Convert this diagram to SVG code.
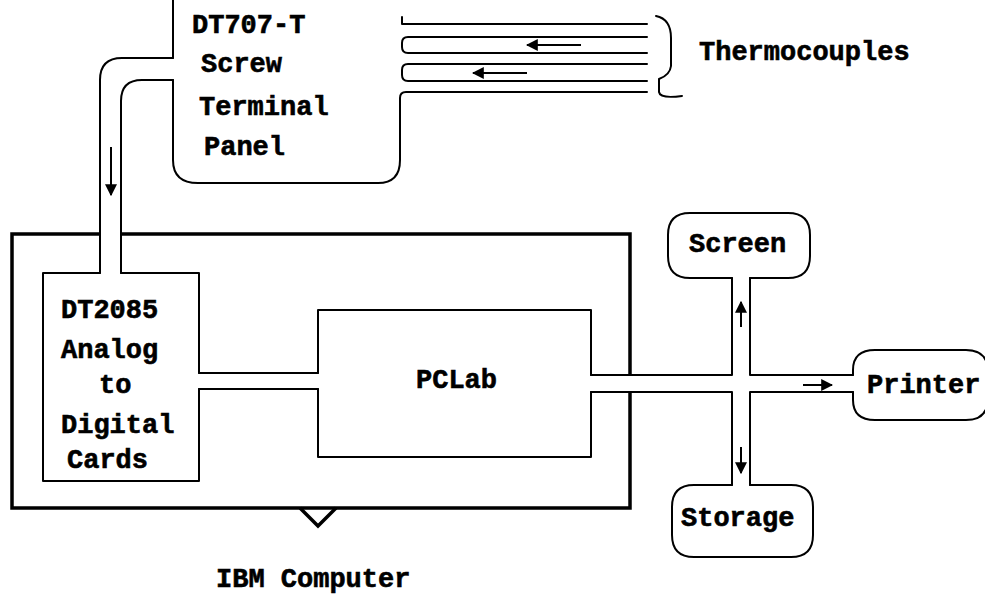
<svg xmlns="http://www.w3.org/2000/svg" width="985" height="605" viewBox="0 0 985 605">
<style>
.ln{fill:none;stroke:#000;stroke-width:2;stroke-linejoin:round;stroke-linecap:round}
.thick{fill:none;stroke:#000;stroke-width:3.5;stroke-linecap:butt;stroke-linejoin:miter}
.ar{fill:none;stroke:#000;stroke-width:2}
text{font-family:"Liberation Mono","Courier New",monospace;font-weight:bold;font-size:27px;fill:#000;stroke:#000;stroke-width:0.6}
</style>
<defs>
<marker id="ah" viewBox="0 0 10 10" refX="9" refY="5" markerWidth="6" markerHeight="6" orient="auto" markerUnits="strokeWidth">
<path d="M0,0 L10,5 L0,10 Z" fill="#000"/>
</marker>
</defs>
<rect width="985" height="605" fill="#fff"/>

<g id="ibm-computer">
<path class="thick" d="M100,234 H12 V508 H630 V392 M630,375 V234 H121"/>
<path class="thick" d="M300,508 L318,526 L336,508"/>
<text x="216" y="587">IBM Computer</text>
</g>

<g id="panel">
<path class="ln" d="M173,0 V58"/>
<path class="ln" d="M173,80 V160 Q173,183 198,183 H378 Q400,183 400,160 V98 Q400,92 406,92 H647"/>
<path class="ln" d="M402,17 V24 H647"/>
<path class="ln" d="M647,37 H408 Q402,37 402,43 V47 Q402,53 408,53 H647"/>
<path class="ln" d="M647,64 H408 Q402,64 402,70 V75 Q402,81 408,81 H647"/>
<text x="192" y="33">DT707-T</text>
<text x="201" y="72">Screw</text>
<text x="199" y="115">Terminal</text>
<text x="204" y="155">Panel</text>
</g>

<g id="thermocouples">
<path class="ln" d="M656,16 Q671,19 671,38 V66 Q670,75 659,79 V92 Q660,99 682,96"/>
<text x="699" y="60">Thermocouples</text>
</g>

<g id="dt2085">
<path class="ln" d="M100,273 H43 V481 H199 V389"/>
<path class="ln" d="M121,273 H199 V373"/>
<text x="61" y="318">DT2085</text>
<text x="61" y="358">Analog</text>
<text x="99" y="393">to</text>
<text x="61" y="433">Digital</text>
<text x="67" y="468">Cards</text>
</g>

<g id="pclab">
<path class="ln" d="M318,373 V310 H591 V375"/>
<path class="ln" d="M318,389 V457 H591 V392"/>
<text x="416" y="388">PCLab</text>
</g>

<g id="screen">
<path class="ln" d="M732,278 H690 Q668,278 668,256 V235 Q668,213 690,213 H788 Q810,213 810,235 V256 Q810,278 788,278 H750"/>
<text x="689" y="252">Screen</text>
</g>

<g id="storage">
<path class="ln" d="M732,485 H694 Q672,485 672,507 V535 Q672,557 694,557 H791 Q813,557 813,535 V507 Q813,485 791,485 H750"/>
<text x="681" y="526">Storage</text>
</g>

<g id="printer">
<path class="ln" d="M853,375 V370 Q853,350 875,350 H966 Q988,350 988,372 V398 Q988,420 966,420 H875 Q853,420 853,400 V392"/>
<text x="867" y="393">Printer</text>
</g>

<g id="connectors">
<path class="ln" d="M173,58 H122 Q100,58 100,80 V273"/>
<path class="ln" d="M173,80 H142 Q121,80 121,101 V273"/>
<path class="ln" d="M199,373 H318"/>
<path class="ln" d="M199,389 H318"/>
<path class="ln" d="M591,375 H732 V278"/>
<path class="ln" d="M591,392 H732 V485"/>
<path class="ln" d="M750,278 V375 H853"/>
<path class="ln" d="M750,485 V392 H853"/>
<line class="ar" x1="111" y1="147" x2="111" y2="195" marker-end="url(#ah)"/>
<line class="ar" x1="581" y1="45" x2="527" y2="45" marker-end="url(#ah)"/>
<line class="ar" x1="527" y1="73" x2="473" y2="73" marker-end="url(#ah)"/>
<line class="ar" x1="741" y1="327" x2="741" y2="302" marker-end="url(#ah)"/>
<line class="ar" x1="741" y1="447" x2="741" y2="473" marker-end="url(#ah)"/>
<line class="ar" x1="803" y1="385" x2="832" y2="385" marker-end="url(#ah)"/>
</g>
</svg>
